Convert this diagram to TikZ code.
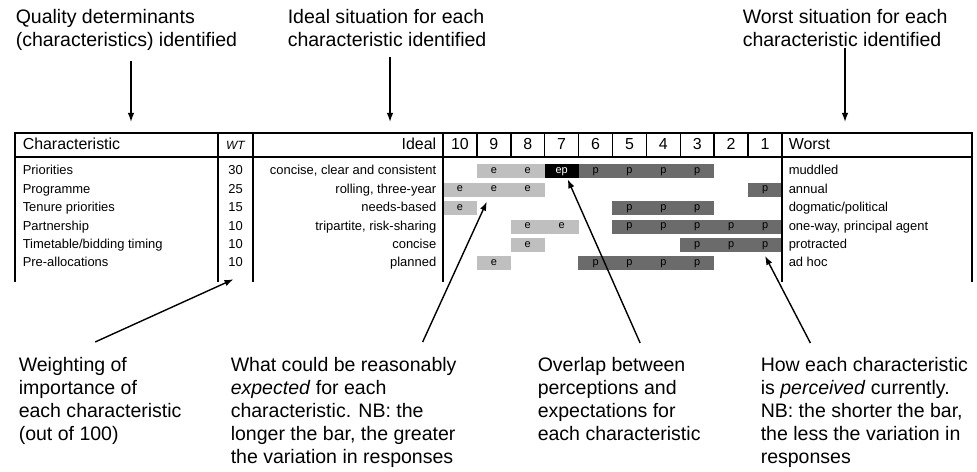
\documentclass[tikz,border=0pt]{standalone}
\usepackage{fontspec}
\setmainfont{Liberation Sans}
\usetikzlibrary{arrows.meta, positioning}
\def\colw{33.9}
\def\rowh{18.4}

\begin{document}
\begin{tikzpicture}[x=1bp, y=-1bp, line width=1.5bp]
    \tikzstyle{annot}=[anchor=north west, align=left, inner sep=0pt, font=\fontsize{19.6}{23}\selectfont]
    \tikzstyle{head}=[inner sep=0pt, text height=11.5bp, text depth=3bp, font=\fontsize{16}{18}\selectfont]
    \tikzstyle{cell}=[inner sep=0pt, text height=9.5bp, text depth=2.5bp, font=\fontsize{13}{15}\selectfont]
    \tikzstyle{ecell}=[minimum width=34.3bp, minimum height=14bp, inner sep=0pt, fill=black!25, text height=6bp, text depth=2bp, font=\fontsize{11}{12}\selectfont]
    \tikzstyle{pcell}=[ecell, fill=black!58]
    \tikzstyle{epcell}=[ecell, fill=black, text=white]
    \tikzstyle{arr}=[-{Latex[length=9bp,width=6.5bp]}, line width=1.4bp]

    \useasboundingbox (0,0) rectangle (977,472);

    % Header row
    \node[head, anchor=west] (h-char) at (22,145) {Characteristic};
    \node[head, font=\fontsize{12}{14}\selectfont\itshape] (h-wt) at (235.5,145) {WT};
    \node[head, anchor=east] (h-ideal) at (437,145) {Ideal};
    \foreach \s in {10,...,1}
        \node[head] (h-\s) at ({443+(10.5-\s)*\colw},145) {\s};
    \node[head, anchor=west] (h-worst) at (788,145) {Worst};

    % One line per characteristic
    \foreach \r/\name/\wt/\ideal/\worst in {1/Priorities/30/{concise, clear and consistent}/muddled, 2/Programme/25/{rolling, three-year}/annual, 3/Tenure priorities/15/needs-based/{dogmatic/political}, 4/Partnership/10/{tripartite, risk-sharing}/{one-way, principal agent}, 5/{Timetable/bidding timing}/10/concise/protracted, 6/Pre-allocations/10/planned/ad hoc}
    {
        \node[cell, anchor=west] (c-\r) at (22,{171.5+(\r-1)*\rowh}) {\name};
        \node[cell] (w-\r) at (235.5,{171.5+(\r-1)*\rowh}) {\wt};
        \node[cell, anchor=east] (i-\r) at (437,{171.5+(\r-1)*\rowh}) {\ideal};
        \node[cell, anchor=west] (o-\r) at (788,{171.5+(\r-1)*\rowh}) {\worst};
    }

    % Expected (light) bars
    \foreach \r/\s in {1/9,1/8,2/10,2/9,2/8,3/10,4/8,4/7,5/8,6/9}
        \node[ecell] (e-\r-\s) at ({443+(10.5-\s)*\colw},{171.5+(\r-1)*\rowh}) {e};

    % Perceived (dark) bars
    \foreach \r/\s in {1/6,1/5,1/4,1/3,2/1,3/5,3/4,3/3,4/5,4/4,4/3,4/2,4/1,5/3,5/2,5/1,6/6,6/5,6/4,6/3}
        \node[pcell] (p-\r-\s) at ({443+(10.5-\s)*\colw},{171.5+(\r-1)*\rowh}) {p};

    % Overlap
    \node[epcell] (ep) at ({443+3.5*\colw},171.5) {ep};

    % Table frame
    \draw (15,282) -- (15,133) -- (972,133) -- (972,282);
    \draw[line width=2.5bp] (15,157) -- (972,157);
    \foreach \x in {218,253,443,782}
        \draw (\x,133) -- (\x,282);
    \foreach \i in {1,...,9}
        \draw ({443+\i*\colw},133) -- ({443+\i*\colw},157);

    % Annotations above
    \node[annot] (qd) at (15,9) {Quality determinants\\(characteristics) identified};
    \node[annot] (is) at (287,9) {Ideal situation for each\\characteristic identified};
    \node[annot] (ws) at (742,9) {Worst situation for each\\characteristic identified};
    \coordinate (qd-tip) at (131,122);
    \coordinate (is-tip) at (390,122);
    \coordinate (ws-tip) at (845,122);
    \draw[arr, shorten <=9bp] (qd.south -| qd-tip) -- (qd-tip);
    \draw[arr, shorten <=9bp] (is.south -| is-tip) -- (is-tip);
    \draw[arr] (ws.south -| ws-tip) -- (ws-tip);

    % Annotations below
    \node[annot] (wa) at (18,357) {Weighting of\\importance of\\each characteristic\\(out of 100)};
    \node[annot] (ea) at (230,357) {What could be reasonably\\\textit{expected} for each\\characteristic. NB: the\\longer the bar, the greater\\the variation in responses};
    \node[annot] (ov) at (537,357) {Overlap between\\perceptions and\\expectations for\\each characteristic};
    \node[annot] (pc) at (760,357) {How each characteristic\\is \textit{perceived} currently.\\NB: the shorter the bar,\\the less the variation in\\responses};

    \draw[arr] ([xshift=-5bp,yshift=15bp]wa.north) -- ([xshift=-2bp,yshift=-9bp]w-6.south);
    \draw[arr] ([xshift=79bp,yshift=15bp]ea.north) -- ([xshift=-7bp,yshift=-4bp]e-2-9.south);
    \draw[arr] ([xshift=21bp,yshift=14bp]ov.north) -- ([xshift=6bp]ep.south);
    \draw[arr] ([xshift=-54bp,yshift=14bp]pc.north) -- ([yshift=-3bp]p-5-1.south);

\end{tikzpicture}
\end{document}
